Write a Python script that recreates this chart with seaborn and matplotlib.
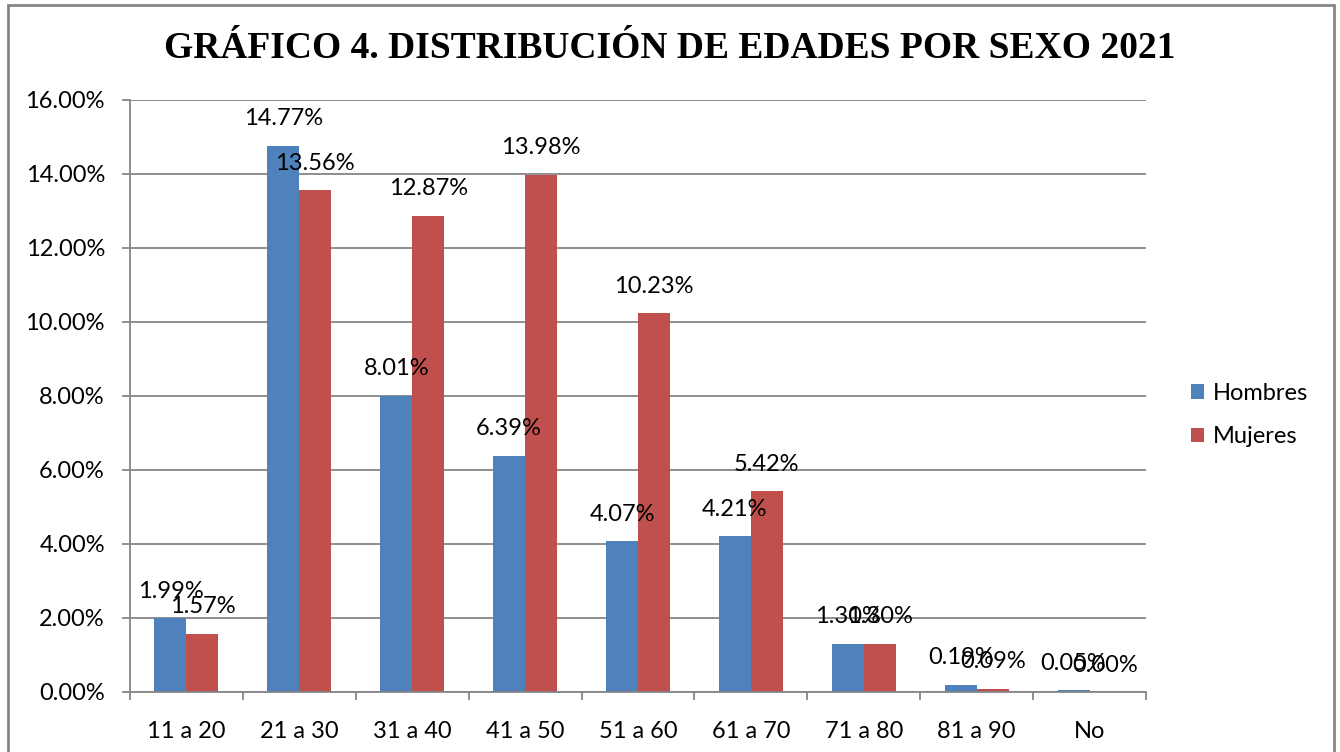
import matplotlib
matplotlib.use("Agg")
import matplotlib.pyplot as plt
import seaborn as sns
import pandas as pd
from matplotlib.patches import Rectangle
from matplotlib.ticker import FuncFormatter, MultipleLocator, FixedLocator

categories = ["11 a 20", "21 a 30", "31 a 40", "41 a 50", "51 a 60",
              "61 a 70", "71 a 80", "81 a 90", "No"]
hombres = [1.99, 14.77, 8.01, 6.39, 4.07, 4.21, 1.30, 0.19, 0.05]
mujeres = [1.57, 13.56, 12.87, 13.98, 10.23, 5.42, 1.30, 0.09, 0.00]
series_names = ["Hombres", "Mujeres"]
colors = ["#4F81BD", "#C0504D"]
title = "GRÁFICO 4. DISTRIBUCIÓN DE EDADES POR SEXO 2021"

df = pd.DataFrame({
    "Edad": categories * 2,
    "Valor": hombres + mujeres,
    "Sexo": [series_names[0]] * len(categories) + [series_names[1]] * len(categories),
})

sns.set_theme(style="white")
plt.rcParams["font.family"] = ["Lato", "DejaVu Sans"]
plt.rcParams["text.color"] = "black"

W, H = 1340, 752
fig = plt.figure(figsize=(W / 100, H / 100), dpi=100)
ax = fig.add_axes([130 / W, 1 - 692 / H, (1146 - 130) / W, (692 - 100) / H])

sns.barplot(data=df, x="Edad", y="Valor", hue="Sexo", palette=colors,
            width=64 / 113, gap=0, linewidth=0, saturation=1, ax=ax,
            legend=True)

grey = "#868686"
ax.set_ylim(0, 16)
ax.set_xlim(-0.5, len(categories) - 0.5)
ax.yaxis.set_major_locator(MultipleLocator(2))
ax.yaxis.set_major_formatter(FuncFormatter(lambda v, p: f"{v:.2f}%"))
ax.grid(axis="y", color=grey, linewidth=1.3)
ax.set_axisbelow(True)
for s in ["top", "right"]:
    ax.spines[s].set_visible(False)
for s in ["left", "bottom"]:
    ax.spines[s].set_color(grey)
    ax.spines[s].set_linewidth(1.3)
ax.set_xlabel("")
ax.set_ylabel("")

lab_fs = 17
ax.tick_params(axis="y", direction="out", length=6, width=1.3, color=grey,
               labelsize=lab_fs, pad=12, left=True, labelcolor="black")
ax.tick_params(axis="x", which="major", length=0, labelsize=lab_fs, pad=21,
               labelcolor="black")
ax.xaxis.set_minor_locator(FixedLocator([i - 0.5 for i in range(len(categories) + 1)]))
ax.tick_params(axis="x", which="minor", direction="out", length=6, width=1.3,
               color=grey, bottom=True)

for cont in ax.containers:
    for bar in cont:
        h = bar.get_height()
        ax.annotate(f"{h:.2f}%", (bar.get_x() + bar.get_width() / 2, h),
                    xytext=(0, 27), textcoords="offset pixels",
                    ha="center", va="center", fontsize=lab_fs, color="black")

leg = ax.get_legend()
handles = leg.legend_handles
leg.remove()
fig.legend(handles, series_names, loc="center left",
           bbox_to_anchor=(1170 / W, 1 - 415 / H), frameon=False,
           fontsize=lab_fs, handlelength=0.55, handleheight=0.55,
           handletextpad=0.35, labelspacing=0.95, labelcolor="black")

fig.text(0.5, 1 - 49 / H, title, ha="center", va="center", color="black",
         fontsize=27, fontweight="bold", family=["Liberation Serif", "DejaVu Serif"])

fig.patches.append(Rectangle((8 / W, -0.05), (1334 - 8) / W, 1.05 - 5 / H,
                             transform=fig.transFigure, fill=False,
                             edgecolor=grey, linewidth=2))

fig.savefig("out.png", dpi=100)
